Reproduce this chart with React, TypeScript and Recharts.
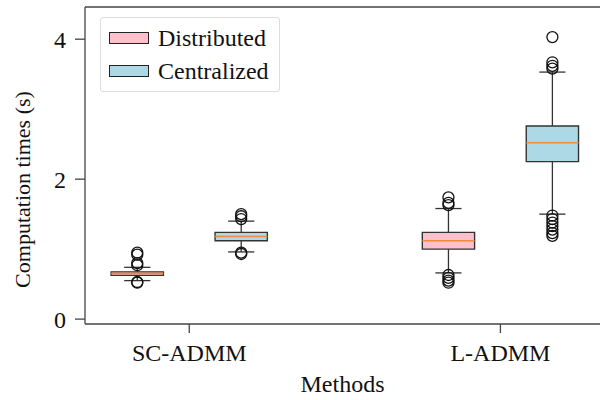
import React from "react";
import {
  ComposedChart,
  ReferenceArea,
  ReferenceLine,
  Scatter,
  XAxis,
  YAxis,
} from "recharts";

// categories and series
const methods = ["SC-ADMM", "L-ADMM"];
const seriesNames = ["Distributed", "Centralized"];

// box statistics per method, seconds
const distLow = [0.55, 0.66];
const distQ1 = [0.625, 1.0];
const distMedian = [0.65, 1.12];
const distQ3 = [0.675, 1.24];
const distHigh = [0.74, 1.58];
const distOutliers = [
  [0.95, 0.92, 0.8, 0.77, 0.53, 0.52],
  [1.74, 1.66, 1.63, 0.63, 0.59, 0.55, 0.52],
];

const centLow = [0.96, 1.5];
const centQ1 = [1.12, 2.25];
const centMedian = [1.18, 2.52];
const centQ3 = [1.24, 2.76];
const centHigh = [1.4, 3.53];
const centOutliers = [
  [1.5, 1.47, 1.43, 0.95, 0.93],
  [4.03, 3.67, 3.62, 3.58, 1.48, 1.43, 1.38, 1.33, 1.28, 1.23, 1.19],
];

const yTicks = [0, 2, 4];

// layout
const W = 600;
const H = 400;
const X_DOMAIN: [number, number] = [0.665, 2.32];
const Y_DOMAIN: [number, number] = [-0.07, 4.46];
const OFFSET = 0.167;
const HALF_BOX = 0.084;
const HALF_CAP = 0.042;
const FONT = "'Liberation Serif', 'Times New Roman', serif";
const AXIS = "#444";
const EDGE = "#333";
const MEDIAN = "#f08a3c";
const COLORS = ["#ffc0cb", "#add8e6"];

const groups = [
  { low: distLow, q1: distQ1, med: distMedian, q3: distQ3, high: distHigh, out: distOutliers },
  { low: centLow, q1: centQ1, med: centMedian, q3: centQ3, high: centHigh, out: centOutliers },
];

const outlierPoints = groups.flatMap((g, s) =>
  methods.flatMap((_, m) =>
    g.out[m].map((y) => ({ x: m + 1 + (s === 0 ? -OFFSET : OFFSET), y }))
  )
);

function Ring(props: any) {
  const { cx, cy } = props;
  if (cx == null || cy == null) return null;
  return <circle cx={cx} cy={cy} r={5.5} fill="none" stroke="#111" strokeWidth={1.3} />;
}

function boxes() {
  const els: React.ReactNode[] = [];
  groups.forEach((g, s) => {
    methods.forEach((_, m) => {
      const x = m + 1 + (s === 0 ? -OFFSET : OFFSET);
      const k = `${s}-${m}`;
      els.push(
        <ReferenceLine key={`wu${k}`} segment={[{ x, y: g.q3[m] }, { x, y: g.high[m] }]} stroke={EDGE} strokeWidth={1.3} ifOverflow="visible" />,
        <ReferenceLine key={`wl${k}`} segment={[{ x, y: g.low[m] }, { x, y: g.q1[m] }]} stroke={EDGE} strokeWidth={1.3} ifOverflow="visible" />,
        <ReferenceLine key={`cu${k}`} segment={[{ x: x - HALF_CAP, y: g.high[m] }, { x: x + HALF_CAP, y: g.high[m] }]} stroke={EDGE} strokeWidth={1.3} ifOverflow="visible" />,
        <ReferenceLine key={`cl${k}`} segment={[{ x: x - HALF_CAP, y: g.low[m] }, { x: x + HALF_CAP, y: g.low[m] }]} stroke={EDGE} strokeWidth={1.3} ifOverflow="visible" />,
        <ReferenceArea key={`b${k}`} x1={x - HALF_BOX} x2={x + HALF_BOX} y1={g.q1[m]} y2={g.q3[m]} fill={COLORS[s]} fillOpacity={1} stroke={EDGE} strokeWidth={1.4} ifOverflow="visible" />,
        <ReferenceLine key={`m${k}`} segment={[{ x: x - HALF_BOX, y: g.med[m] }, { x: x + HALF_BOX, y: g.med[m] }]} stroke={MEDIAN} strokeWidth={1.5} ifOverflow="visible" />
      );
    });
  });
  return els;
}

export default function App() {
  return (
    <div style={{ position: "absolute", left: 0, top: 0, width: W, height: H, background: "#fff", fontFamily: FONT }}>
      <ComposedChart width={W} height={H} margin={{ top: 7, right: 0, bottom: 0, left: 0 }}>
        <XAxis
          type="number"
          dataKey="x"
          domain={X_DOMAIN}
          allowDataOverflow
          ticks={[1, 2]}
          tickFormatter={(v: number) => methods[v - 1]}
          height={76}
          stroke={AXIS}
          strokeWidth={1.3}
          tickSize={9}
          tickMargin={11}
          tick={{ fill: "#111", fontSize: 24, fontFamily: FONT }}
          label={{ value: "Methods", position: "insideBottom", offset: 8, fill: "#111", fontSize: 24, fontFamily: FONT }}
        />
        <YAxis
          type="number"
          dataKey="y"
          domain={Y_DOMAIN}
          allowDataOverflow
          ticks={yTicks}
          width={85}
          stroke={AXIS}
          strokeWidth={1.3}
          tickSize={10}
          tickMargin={9}
          tick={{ fill: "#111", fontSize: 24, fontFamily: FONT }}
          label={{
            value: "Computation times (s)",
            angle: -90,
            position: "insideLeft",
            offset: 22,
            dy: 24,
            fill: "#111",
            fontSize: 22,
            fontFamily: FONT,
            style: { textAnchor: "middle" },
          }}
        />
        <ReferenceLine y={Y_DOMAIN[1]} stroke={AXIS} strokeWidth={1.3} ifOverflow="visible" />
        {boxes()}
        <Scatter data={outlierPoints} shape={<Ring />} isAnimationActive={false} />
      </ComposedChart>
      <div
        style={{
          position: "absolute",
          left: 100,
          top: 17,
          padding: "4px 10px 4px 8px",
          border: "1px solid #ddd",
          borderRadius: 3,
          background: "#fff",
        }}
      >
        {seriesNames.map((name, i) => (
          <div key={name} style={{ display: "flex", alignItems: "center", height: 32.5 }}>
            <span
              style={{
                display: "inline-block",
                width: 38,
                height: 10,
                background: COLORS[i],
                border: "1px solid #222",
                marginRight: 9,
              }}
            />
            <span style={{ fontSize: 24, color: "#111", lineHeight: "24px" }}>{name}</span>
          </div>
        ))}
      </div>
    </div>
  );
}
